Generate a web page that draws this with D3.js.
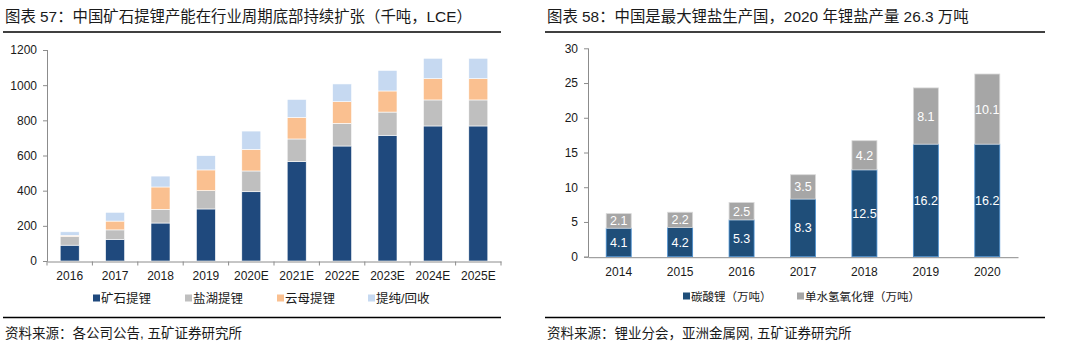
<!DOCTYPE html>
<html><head><meta charset="utf-8">
<script src="https://cdn.jsdelivr.net/npm/d3@7/dist/d3.min.js"></script>
<style>
body{margin:0;background:#fff;}
svg{display:block;font-family:"Liberation Sans","Noto Sans CJK SC",Arial,sans-serif;}
</style></head><body>
<svg id="c" width="1080" height="355"></svg>
<script>
// Left chart data (千吨 LCE)
const leftYears = ["2016","2017","2018","2019","2020E","2021E","2022E","2023E","2024E","2025E"];
const leftSeriesNames = ["矿石提锂","盐湖提锂","云母提锂","提纯/回收"];
const ore     = [90,123,216,296,394,565,654,715,768,768];
const brine   = [50,54,78,104,118,129,129,132,148,148];
const mica    = [6,50,127,118,123,123,123,120,121,121];
const recycle = [20,50,62,81,104,102,101,117,116,116];
const leftTicks = [0,200,400,600,800,1000,1200];

// Right chart data (万吨)
const rightYears = ["2014","2015","2016","2017","2018","2019","2020"];
const rightSeriesNames = ["碳酸锂（万吨）","单水氢氧化锂（万吨）"];
const carbonate = [4.1,4.2,5.3,8.3,12.5,16.2,16.2];
const hydroxide = [2.1,2.2,2.5,3.5,4.2,8.1,10.1];
const rightTicks = [0,5,10,15,20,25,30];

const svg = d3.select("#c");
const axisColor = "#8c8c8c";
const textColor = "#1a1a1a";
const mixed = '"Liberation Sans","Noto Sans CJK SC",sans-serif';
const cjk = '"Noto Sans CJK SC","Liberation Sans",sans-serif';

function header(x0, x1, title, source){
  svg.append("text").attr("x", x0).attr("y", 22).attr("font-size", 15.4)
    .attr("font-family", mixed).attr("fill", textColor).text(title);
  svg.append("line").attr("x1", x0-2).attr("x2", x1).attr("y1", 32).attr("y2", 32)
    .attr("stroke", "#000").attr("stroke-width", 1.3);
  svg.append("line").attr("x1", x0-2).attr("x2", x1).attr("y1", 317.5).attr("y2", 317.5)
    .attr("stroke", "#000").attr("stroke-width", 1.3);
  svg.append("text").attr("x", x0).attr("y", 338).attr("font-size", 13.5)
    .attr("font-family", mixed).attr("fill", textColor).text(source);
}

header(5, 501, "图表 57：中国矿石提锂产能在行业周期底部持续扩张（千吨，LCE）", "资料来源：各公司公告, 五矿证券研究所");
header(547, 1045, "图表 58：中国是最大锂盐生产国，2020 年锂盐产量 26.3 万吨", "资料来源：锂业分会，亚洲金属网, 五矿证券研究所");

// ---------- Left chart ----------
{
  const xb = d3.scaleBand().domain(leftYears).range([47, 501]);
  const y = d3.scaleLinear().domain([0,1200]).range([261, 50]);
  const data = leftYears.map((yr,i)=>({year:yr, s0:ore[i], s1:brine[i], s2:mica[i], s3:recycle[i]}));
  const stack = d3.stack().keys(["s0","s1","s2","s3"])(data);
  const colors = ["#1f497d","#bfbfbf","#fac090","#c6d9f1"];
  const g = svg.append("g");
  stack.forEach((layer,li)=>{
    g.selectAll(null).data(layer).enter().append("rect")
      .attr("x", d=>xb(d.data.year)+xb.bandwidth()/2 - 9.5)
      .attr("width", 19)
      .attr("y", d=>y(d[1]))
      .attr("height", d=>y(d[0])-y(d[1]))
      .attr("fill", colors[li])
      .attr("stroke", "#fff").attr("stroke-width", 0.6);
  });
  const ya = svg.append("g").attr("transform","translate(47,0)")
    .call(d3.axisLeft(y).tickValues(leftTicks).tickFormat(d3.format("d")).tickSize(4).tickPadding(6));
  ya.select(".domain").attr("stroke", axisColor).attr("d","M-4,261.5H0.5V50");
  ya.selectAll(".tick line").attr("stroke", axisColor);
  ya.selectAll("text").attr("font-size", 12).attr("fill", textColor).attr("font-family", mixed);
  const xa = svg.append("g").attr("transform","translate(0,261.5)")
    .call(d3.axisBottom(xb).tickSize(0).tickPadding(10));
  xa.select(".domain").attr("stroke", axisColor);
  xa.selectAll("text").attr("font-size", 12).attr("fill", textColor).attr("font-family", mixed);
  const edges = leftYears.map(d=>xb(d)).concat([xb.range()[1]]);
  svg.append("g").selectAll("line").data(edges).enter().append("line")
    .attr("x1", d=>d).attr("x2", d=>d).attr("y1", 261.5).attr("y2", 265.5)
    .attr("stroke", axisColor);
  const lx = [93, 185, 277, 368];
  leftSeriesNames.forEach((n,i)=>{
    svg.append("rect").attr("x", lx[i]).attr("y", 294.5).attr("width", 7).attr("height", 7).attr("fill", colors[i]);
    svg.append("text").attr("x", lx[i]+8).attr("y", 303).attr("font-size", 12.5)
      .attr("font-family", mixed).attr("fill", textColor).text(n);
  });
}

// ---------- Right chart ----------
{
  const xb = d3.scaleBand().domain(rightYears).range([588, 1018]);
  const y = d3.scaleLinear().domain([0,30]).range([256.7, 48.3]);
  const data = rightYears.map((yr,i)=>({year:yr, a:carbonate[i], b:hydroxide[i]}));
  const stack = d3.stack().keys(["a","b"])(data);
  const fills = ["#1f4e79","#a6a6a6"];
  const strokes = ["#4a8fd0","#d9d9d9"];
  const vals = [carbonate, hydroxide];
  const g = svg.append("g");
  stack.forEach((layer,li)=>{
    g.selectAll(null).data(layer).enter().append("rect")
      .attr("x", d=>xb(d.data.year)+xb.bandwidth()/2 - 12.5)
      .attr("width", 25)
      .attr("y", d=>y(d[1]))
      .attr("height", d=>y(d[0])-y(d[1]))
      .attr("fill", fills[li])
      .attr("stroke", strokes[li]).attr("stroke-width", 0.8);
    g.selectAll(null).data(layer).enter().append("text")
      .attr("x", d=>xb(d.data.year)+xb.bandwidth()/2)
      .attr("y", d=>(y(d[0])+y(d[1]))/2 + 4.5)
      .attr("text-anchor","middle").attr("font-size", 12.5).attr("fill","#fff")
      .attr("font-family", mixed)
      .text((d,i)=>vals[li][i].toFixed(1));
  });
  const ya = svg.append("g").attr("transform","translate(588,0)")
    .call(d3.axisLeft(y).tickValues(rightTicks).tickSize(4).tickPadding(6));
  ya.select(".domain").attr("stroke", axisColor).attr("d","M-4,257.2H0.5V48.3");
  ya.selectAll(".tick line").attr("stroke", axisColor);
  ya.selectAll("text").attr("font-size", 12).attr("fill", textColor).attr("font-family", mixed);
  const xa = svg.append("g").attr("transform","translate(0,257.2)")
    .call(d3.axisBottom(xb).tickSize(0).tickPadding(10));
  xa.select(".domain").attr("stroke", axisColor);
  xa.selectAll("text").attr("font-size", 12).attr("fill", textColor).attr("font-family", mixed);
  const lx = [683, 797];
  rightSeriesNames.forEach((n,i)=>{
    svg.append("rect").attr("x", lx[i]).attr("y", 292.5).attr("width", 7).attr("height", 7).attr("fill", fills[i]);
    svg.append("text").attr("x", lx[i]+8).attr("y", 300.5).attr("font-size", 11.5)
      .attr("font-family", mixed).attr("fill", textColor).text(n);
  });
}
</script>
</body></html>
